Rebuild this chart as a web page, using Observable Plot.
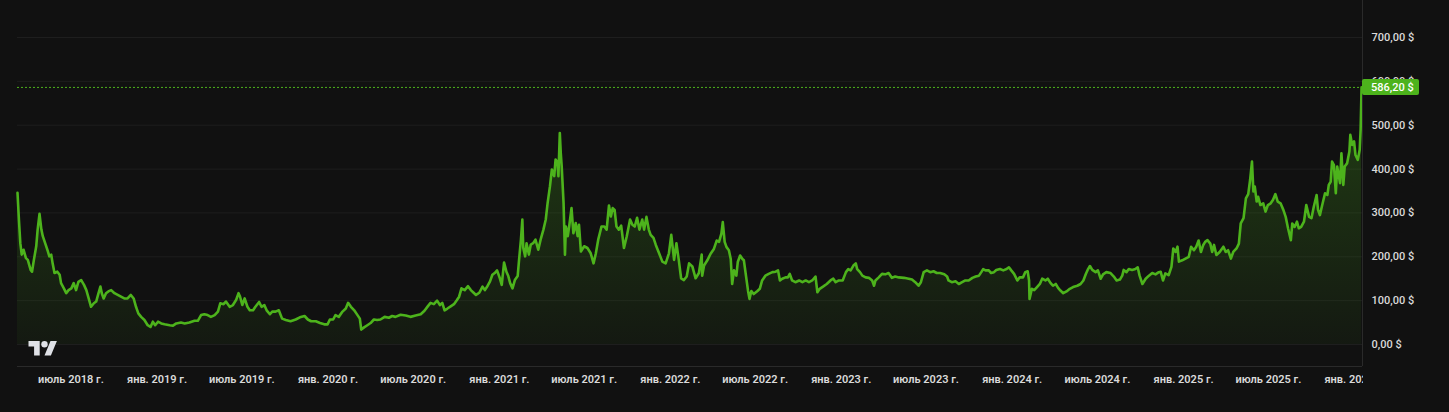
<!DOCTYPE html>
<html>
<head>
<meta charset="utf-8">
<script src="https://cdn.jsdelivr.net/npm/d3@7"></script>
<script src="https://cdn.jsdelivr.net/npm/@observablehq/plot@0.6"></script>
<style>
  html, body { margin: 0; padding: 0; background: #111111; }
  #chart { width: 1449px; height: 412px; overflow: hidden; }
</style>
</head>
<body>
<div id="chart"></div>
<script>
const dates = [
"2018-03-09","2018-03-12","2018-03-15","2018-03-18","2018-03-22","2018-03-27","2018-03-31","2018-04-06","2018-04-09","2018-04-13",
"2018-04-18","2018-04-21","2018-04-25","2018-04-29","2018-05-02","2018-05-07","2018-05-13","2018-05-16","2018-05-20","2018-05-23",
"2018-05-27","2018-06-02","2018-06-07","2018-06-10","2018-06-16","2018-06-21","2018-06-26","2018-07-02","2018-07-07","2018-07-12",
"2018-07-17","2018-07-23","2018-07-29","2018-08-03","2018-08-08","2018-08-13","2018-08-19","2018-08-24","2018-08-29","2018-09-02",
"2018-09-05","2018-09-09","2018-09-14","2018-09-19","2018-09-25","2018-10-02","2018-10-09","2018-10-16","2018-10-23","2018-10-30",
"2018-11-06","2018-11-12","2018-11-17","2018-11-22","2018-11-28","2018-12-05","2018-12-12","2018-12-18","2018-12-23","2018-12-28",
"2019-01-03","2019-01-10","2019-01-17","2019-01-28","2019-02-04","2019-02-11","2019-02-21","2019-03-01","2019-03-11","2019-03-22",
"2019-03-29","2019-04-05","2019-04-12","2019-04-19","2019-04-26","2019-05-04","2019-05-11","2019-05-16","2019-05-23","2019-05-28",
"2019-06-05","2019-06-12","2019-06-19","2019-06-24","2019-06-27","2019-07-02","2019-07-07","2019-07-13","2019-07-18","2019-07-25",
"2019-07-30","2019-08-07","2019-08-12","2019-08-18","2019-08-23","2019-08-30","2019-09-04","2019-09-11","2019-09-18","2019-09-25",
"2019-10-03","2019-10-13","2019-10-24","2019-11-02","2019-11-12","2019-11-19","2019-11-26","2019-12-06","2019-12-15","2019-12-24",
"2019-12-31","2020-01-05","2020-01-12","2020-01-17","2020-01-24","2020-02-01","2020-02-08","2020-02-13","2020-02-19","2020-02-26",
"2020-03-04","2020-03-09","2020-03-12","2020-03-18","2020-03-25","2020-04-01","2020-04-08","2020-04-15","2020-04-22","2020-05-01",
"2020-05-10","2020-05-17","2020-05-24","2020-06-04","2020-06-15","2020-06-25","2020-07-06","2020-07-17","2020-07-25","2020-08-01",
"2020-08-07","2020-08-14","2020-08-21","2020-08-27","2020-09-01","2020-09-06","2020-09-12","2020-09-19","2020-09-26","2020-10-02",
"2020-10-07","2020-10-12","2020-10-19","2020-10-26","2020-11-01","2020-11-07","2020-11-12","2020-11-19","2020-11-26","2020-12-01",
"2020-12-07","2020-12-12","2020-12-17","2020-12-22","2020-12-27","2021-01-02","2021-01-06","2021-01-11","2021-01-16","2021-01-20",
"2021-01-24","2021-01-29","2021-02-03","2021-02-09","2021-02-12","2021-02-16","2021-02-19","2021-02-21","2021-02-25","2021-02-28",
"2021-03-05","2021-03-09","2021-03-14","2021-03-19","2021-03-25","2021-03-30","2021-04-05","2021-04-10","2021-04-14","2021-04-19",
"2021-04-23","2021-04-28","2021-05-01","2021-05-05","2021-05-07","2021-05-10","2021-05-12","2021-05-14","2021-05-18","2021-05-21",
"2021-05-23","2021-05-27","2021-05-30","2021-06-04","2021-06-08","2021-06-13","2021-06-17","2021-06-20","2021-06-24","2021-07-01",
"2021-07-08","2021-07-15","2021-07-21","2021-07-26","2021-07-31","2021-08-07","2021-08-13","2021-08-18","2021-08-23","2021-08-27",
"2021-08-31","2021-09-04","2021-09-08","2021-09-13","2021-09-18","2021-09-24","2021-09-30","2021-10-07","2021-10-12","2021-10-17",
"2021-10-22","2021-10-27","2021-11-02","2021-11-06","2021-11-11","2021-11-16","2021-11-20","2021-11-26","2021-12-01","2021-12-08",
"2021-12-15","2021-12-22","2021-12-29","2022-01-03","2022-01-09","2022-01-14","2022-01-19","2022-01-24","2022-01-30","2022-02-05",
"2022-02-10","2022-02-17","2022-02-24","2022-03-03","2022-03-09","2022-03-10","2022-03-14","2022-03-21","2022-03-28","2022-04-04",
"2022-04-10","2022-04-15","2022-04-20","2022-04-23","2022-04-27","2022-05-01","2022-05-06","2022-05-10","2022-05-13","2022-05-17",
"2022-05-22","2022-05-25","2022-05-30","2022-06-04","2022-06-07","2022-06-12","2022-06-16","2022-06-19","2022-06-23","2022-06-28",
"2022-07-06","2022-07-11","2022-07-16","2022-07-23","2022-07-30","2022-08-07","2022-08-14","2022-08-19","2022-08-23","2022-08-28",
"2022-09-04","2022-09-09","2022-09-13","2022-09-18","2022-09-25","2022-10-03","2022-10-10","2022-10-17","2022-10-24","2022-10-31",
"2022-11-07","2022-11-11","2022-11-16","2022-11-23","2022-12-01","2022-12-09","2022-12-15","2022-12-20","2022-12-27","2023-01-04",
"2023-01-11","2023-01-16","2023-01-21","2023-01-27","2023-02-01","2023-02-04","2023-02-10","2023-02-15","2023-02-22","2023-03-01",
"2023-03-08","2023-03-12","2023-03-15","2023-03-22","2023-03-29","2023-04-05","2023-04-12","2023-04-19","2023-04-26","2023-05-04",
"2023-05-15","2023-05-25","2023-06-01","2023-06-08","2023-06-15","2023-06-20","2023-06-26","2023-07-03","2023-07-10","2023-07-17",
"2023-07-24","2023-07-31","2023-08-09","2023-08-15","2023-08-18","2023-08-25","2023-09-02","2023-09-09","2023-09-16","2023-09-23",
"2023-09-30","2023-10-08","2023-10-15","2023-10-22","2023-10-27","2023-10-31","2023-11-05","2023-11-12","2023-11-17","2023-11-23",
"2023-11-28","2023-12-06","2023-12-13","2023-12-20","2023-12-25","2023-12-30","2024-01-05","2024-01-12","2024-01-17","2024-01-24",
"2024-01-29","2024-02-03","2024-02-06","2024-02-07","2024-02-12","2024-02-17","2024-02-23","2024-02-29","2024-03-05","2024-03-12",
"2024-03-17","2024-03-23","2024-03-28","2024-04-03","2024-04-08","2024-04-13","2024-04-19","2024-04-26","2024-05-03","2024-05-10",
"2024-05-19","2024-05-26","2024-06-01","2024-06-06","2024-06-11","2024-06-15","2024-06-20","2024-06-27","2024-07-02","2024-07-08",
"2024-07-13","2024-07-20","2024-07-29","2024-08-05","2024-08-11","2024-08-18","2024-08-23","2024-08-26","2024-09-01","2024-09-06",
"2024-09-13","2024-09-20","2024-09-25","2024-09-29","2024-10-05","2024-10-12","2024-10-19","2024-10-26","2024-11-02","2024-11-09",
"2024-11-13","2024-11-18","2024-11-23","2024-11-30","2024-12-06","2024-12-10","2024-12-15","2024-12-19","2024-12-22","2024-12-29",
"2025-01-05","2025-01-12","2025-01-17","2025-01-23","2025-01-28","2025-02-02","2025-02-07","2025-02-12","2025-02-16","2025-02-21",
"2025-02-27","2025-03-03","2025-03-07","2025-03-12","2025-03-19","2025-03-27","2025-04-01","2025-04-06","2025-04-12","2025-04-17",
"2025-04-24","2025-04-29","2025-05-03","2025-05-09","2025-05-14","2025-05-19","2025-05-23","2025-05-27","2025-05-30","2025-06-02",
"2025-06-06","2025-06-09","2025-06-14","2025-06-20","2025-06-25","2025-06-30","2025-07-06","2025-07-11","2025-07-16","2025-07-21",
"2025-07-27","2025-08-02","2025-08-07","2025-08-12","2025-08-18","2025-08-21","2025-08-26","2025-08-31","2025-09-04","2025-09-09",
"2025-09-15","2025-09-20","2025-09-26","2025-10-01","2025-10-06","2025-10-12","2025-10-15","2025-10-19","2025-10-24","2025-10-30",
"2025-11-04","2025-11-07","2025-11-11","2025-11-14","2025-11-18","2025-11-22","2025-11-25","2025-12-01","2025-12-04","2025-12-08",
"2025-12-11","2025-12-16","2025-12-21","2025-12-23","2025-12-27","2025-12-31","2026-01-03","2026-01-08","2026-01-12","2026-01-14",
"2026-01-16"
];
const prices = [
346,285,231,205,216,197,193,170,166,193,
224,262,298,262,247,231,212,201,205,185,
163,166,159,140,128,117,124,128,140,124,
143,147,136,124,105,86,94,98,117,132,
117,105,117,121,124,117,113,109,105,105,
113,105,86,71,63,56,44,40,52,44,
52,48,46,44,43,48,50,48,50,54,
54,67,69,67,63,67,75,94,92,98,
86,90,102,117,110,90,105,86,78,78,
86,97,86,90,78,69,75,75,78,59,
56,53,57,62,65,57,53,53,49,46,
46,57,57,67,63,75,82,95,86,78,
67,59,34,39,44,49,57,56,57,63,
61,65,63,68,66,63,66,69,77,87,
95,92,100,90,95,78,82,87,92,101,
109,128,124,133,124,118,113,118,132,124,
134,144,159,163,169,151,136,187,166,156,
140,128,147,156,193,239,285,220,201,231,
205,228,231,239,216,239,262,285,323,361,
399,384,422,415,384,482,437,407,323,205,
269,247,269,311,254,277,247,273,212,224,
220,208,185,208,239,269,269,262,317,292,
311,307,269,262,271,220,247,285,273,269,
289,262,285,262,291,262,250,243,227,208,
189,185,208,250,193,231,193,151,147,155,
185,178,151,163,205,157,180,192,207,218,
237,234,253,279,234,222,215,195,138,169,
157,188,203,195,192,153,122,104,122,115,
122,127,146,157,161,165,166,169,146,150,
153,153,161,146,142,146,142,146,142,146,
155,119,127,132,138,146,150,142,146,146,
165,172,169,180,185,172,165,157,153,152,
146,134,146,153,161,160,163,152,155,153,
152,150,148,142,134,142,165,169,165,167,
163,163,160,155,146,142,144,138,142,146,
146,152,155,157,165,172,169,169,163,165,
170,172,169,172,176,169,161,146,153,153,
165,167,146,104,127,124,131,138,150,146,
150,140,134,138,129,123,117,121,127,131,
134,138,146,160,172,179,170,165,169,150,
160,165,163,155,146,148,157,170,165,172,
170,172,176,157,138,150,157,163,160,165,
166,146,162,158,177,219,211,223,189,192,
196,200,223,215,223,237,211,227,234,238,
230,211,227,204,211,223,211,215,196,211,
219,230,276,288,333,343,375,417,349,360,
326,337,318,322,303,318,322,330,343,326,
322,307,291,265,238,276,268,280,265,268,
280,318,291,288,314,341,307,295,318,345,
341,364,371,417,409,345,406,368,436,364,
406,413,440,478,455,463,432,421,444,490,
586.2
];
const yTicks = [0, 100, 200, 300, 400, 500, 600, 700];
const xTickDates = ["2018-07-01","2019-01-01","2019-07-01","2020-01-01","2020-07-01","2021-01-01","2021-07-01","2022-01-01","2022-07-01","2023-01-01","2023-07-01","2024-01-01","2024-07-01","2025-01-01","2025-07-01","2026-01-01"];
const xTickLabels = ["июль 2018 г.","янв. 2019 г.","июль 2019 г.","янв. 2020 г.","июль 2020 г.","янв. 2021 г.","июль 2021 г.","янв. 2022 г.","июль 2022 г.","янв. 2023 г.","июль 2023 г.","янв. 2024 г.","июль 2024 г.","янв. 2025 г.","июль 2025 г.","янв. 2026 г."];
const lastPrice = 586.2;

const GREEN = "#4db31c";
const TEXT = "#dadada";
const BG = "#111111";
const FONT = "Roboto, 'Noto Sans', sans-serif";

const parse = s => new Date(s + "T00:00:00Z");
const data = dates.map((d, i) => ({date: parse(d), price: prices[i]}));
const tickDates = xTickDates.map(parse);
const labelMap = new Map(tickDates.map((d, i) => [+d, xTickLabels[i]]));
const xDomain = [parse("2018-03-09"), parse("2026-01-18")];
const yDomain = [-50.16, 784.4];
const fmtPrice = v => d3.format(".2f")(v).replace(".", ",") + " $";

const defs = () => {
  const d = d3.create("svg:defs");
  const g = d.append("linearGradient").attr("id", "areaGrad")
    .attr("x1", 0).attr("y1", 0).attr("x2", 0).attr("y2", 1);
  g.append("stop").attr("offset", "0%").attr("stop-color", GREEN).attr("stop-opacity", 0.28);
  g.append("stop").attr("offset", "100%").attr("stop-color", GREEN).attr("stop-opacity", 0.05);
  return d.node();
};

// price-scale panel: hides the part of the time labels that runs under it
const cover = (index, scales, values, dims) => {
  const x0 = dims.width - dims.marginRight + 1;
  return d3.create("svg:rect")
    .attr("x", x0).attr("y", dims.height - dims.marginBottom + 1)
    .attr("width", dims.marginRight).attr("height", dims.marginBottom)
    .attr("fill", BG).node();
};

const badge = (index, scales, values, dims) => {
  const g = d3.create("svg:g");
  const y = scales.y(lastPrice);
  const x0 = dims.width - dims.marginRight;
  g.append("rect").attr("x", x0).attr("y", y - 8).attr("width", 57).attr("height", 16)
    .attr("rx", 2).attr("fill", GREEN);
  g.append("text").attr("x", x0 + 9).attr("y", y).attr("dy", "0.35em")
    .attr("text-anchor", "start")
    .attr("fill", "#ffffff").attr("font-size", 11).attr("font-weight", 500)
    .attr("font-family", FONT).text(fmtPrice(lastPrice));
  return g.node();
};

const logo = (index, scales, values, dims) => {
  const g = d3.create("svg:g")
    .attr("transform", `translate(${dims.marginLeft + 11.5},${dims.height - dims.marginBottom - 28.2}) scale(0.8)`)
    .attr("fill", "#dfe1e6");
  g.append("path").attr("d", "M14 22H7V11H0V4h14v18zM28 22h-8l7.5-18h8L28 22z");
  g.append("circle").attr("cx", 20).attr("cy", 8).attr("r", 4);
  return g.node();
};

const chart = Plot.plot({
  width: 1449,
  height: 412,
  marginLeft: 17,
  marginRight: 87,
  marginTop: 0,
  marginBottom: 46,
  style: {background: BG, color: TEXT, fontFamily: FONT, fontSize: "11px"},
  x: {type: "utc", domain: xDomain, axis: null},
  y: {domain: yDomain, axis: null},
  marks: [
    defs,
    Plot.ruleY(yTicks, {stroke: "#1e1e1e", strokeWidth: 1}),
    Plot.areaY(data, {x: "date", y1: 0, y2: "price", fill: "url(#areaGrad)"}),
    Plot.lineY(data, {x: "date", y: "price", stroke: GREEN, strokeWidth: 2.6, strokeLinejoin: "round", strokeLinecap: "round"}),
    Plot.ruleY([lastPrice], {stroke: GREEN, strokeWidth: 1, strokeDasharray: "2,2"}),
    Plot.axisX({anchor: "bottom", ticks: tickDates, tickSize: 0, tickPadding: 9,
      tickFormat: d => labelMap.get(+d), label: null, fill: TEXT, fontWeight: 600}),
    cover,
    Plot.ruleY([yDomain[0]], {stroke: "#2a2a2a"}),
    Plot.ruleX([xDomain[1]], {stroke: "#2a2a2a"}),
    Plot.axisY({anchor: "right", ticks: yTicks, tickSize: 0, tickPadding: 9, tickFormat: fmtPrice,
      label: null, fill: TEXT, fontWeight: 500}),
    badge,
    logo
  ]
});

document.getElementById("chart").appendChild(chart);
</script>
</body>
</html>
